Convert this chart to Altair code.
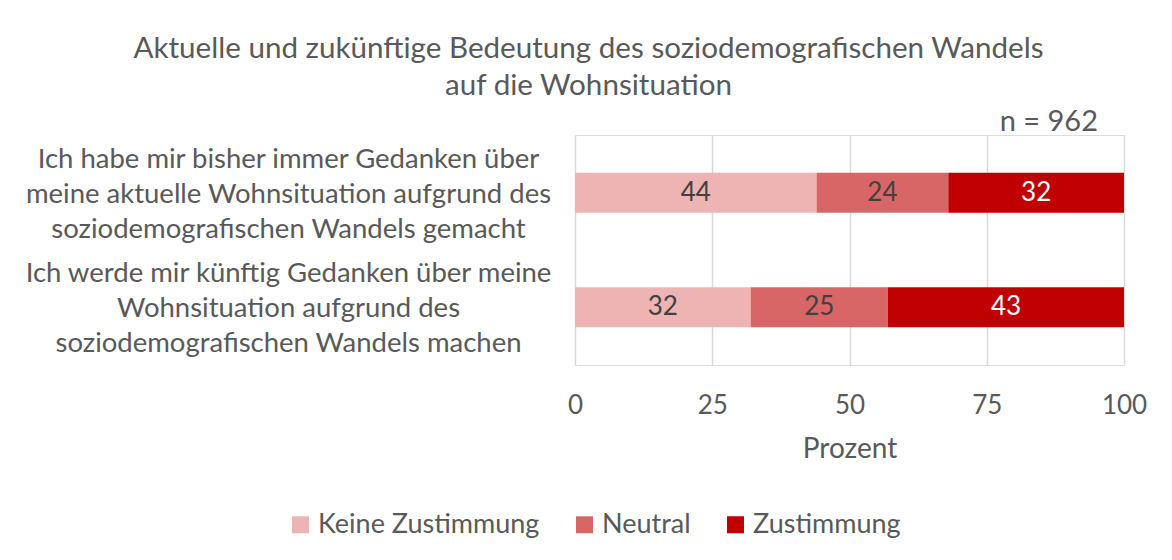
import altair as alt
import pandas as pd

questions = [
    "Ich habe mir bisher immer Gedanken über|meine aktuelle Wohnsituation aufgrund des|soziodemografischen Wandels gemacht",
    "Ich werde mir künftig Gedanken über meine|Wohnsituation aufgrund des|soziodemografischen Wandels machen",
]
series = ["Keine Zustimmung", "Neutral", "Zustimmung"]
keine = [44, 32]
neutral = [24, 25]
zustimmung = [32, 43]
colors = ["#EEB4B4", "#D96666", "#C00000"]
text_colors = ["#404040", "#404040", "#FFFFFF"]

rows = []
for qi, q in enumerate(questions):
    for si, (s, vals) in enumerate(zip(series, [keine, neutral, zustimmung])):
        rows.append({"question": q, "series": s, "value": vals[qi], "order": si,
                     "tcolor": text_colors[si]})
df = pd.DataFrame(rows)

FONT = "Lato"
GREY = "#595959"

base = alt.Chart(df).transform_stack(
    stack="value", as_=["x0", "x1"], groupby=["question"], sort=[{"field": "order"}]
).transform_calculate(mid="(datum.x0 + datum.x1) / 2")

y_enc = alt.Y(
    "question:N",
    sort=questions,
    scale=alt.Scale(domain=questions, paddingInner=0.652, paddingOuter=0.33),
    axis=alt.Axis(
        title=None, domain=False, ticks=False, grid=False,
        labelExpr="split(datum.label, '|')",
        labelAlign="center", labelBaseline="middle", labelPadding=287,
        labelLineHeight=35, labelLimit=0, labelFontSize=27.5, labelColor=GREY,
        labelFont=FONT, labelOffset=-33,
    ),
)

bars = base.mark_bar().encode(
    x=alt.X(
        "x0:Q",
        scale=alt.Scale(domain=[0, 100]),
        axis=alt.Axis(
            title="Prozent", values=[0, 25, 50, 75, 100], domain=False, ticks=False,
            grid=True, gridColor="#D9D9D9", gridWidth=1.5, labelPadding=27,
            labelFlush=False,
            labelFontSize=26, labelColor=GREY, labelFont=FONT,
            titleFontSize=28, titleColor=GREY, titleFont=FONT, titleFontWeight="normal",
            titlePadding=17,
        ),
    ),
    x2="x1:Q",
    y=y_enc,
    color=alt.Color(
        "series:N",
        scale=alt.Scale(domain=series, range=colors),
        legend=alt.Legend(
            title=None, orient="none", direction="horizontal", legendX=-288, legendY=376,
            symbolType="square", symbolSize=289, symbolStrokeWidth=0,
            labelFontSize=27, labelColor=GREY, labelFont=FONT, columnPadding=31,
            labelOffset=4, labelLimit=0,
        ),
    ),
)

labels = base.mark_text(fontSize=26, font=FONT, baseline="middle", align="center").encode(
    x=alt.X("mid:Q"),
    y=alt.Y("question:N", sort=questions),
    text=alt.Text("value:Q"),
    color=alt.Color("tcolor:N", scale=None, legend=None),
)

ntext = alt.Chart(pd.DataFrame({"t": ["n = 962"]})).mark_text(
    fontSize=29, font=FONT, color=GREY, align="right", baseline="middle"
).encode(text="t:N", x=alt.value(523), y=alt.value(-13))

chart = alt.layer(bars, labels, ntext).properties(
    width=549,
    height=230,
    title=alt.TitleParams(
        text=["Aktuelle und zukünftige Bedeutung des soziodemografischen Wandels",
              "auf die Wohnsituation"],
        anchor="middle", dx=-261, fontSize=29.6, font=FONT, color=GREY,
        fontWeight="normal", lineHeight=37, offset=6,
    ),
    autosize=alt.AutoSizeParams(type="none"),
    padding={"left": 567, "top": 127, "right": 40, "bottom": 187},
).configure_view(stroke=None).configure(background="white")

chart.save("out.html", embed_options={"renderer": "svg", "actions": False})
